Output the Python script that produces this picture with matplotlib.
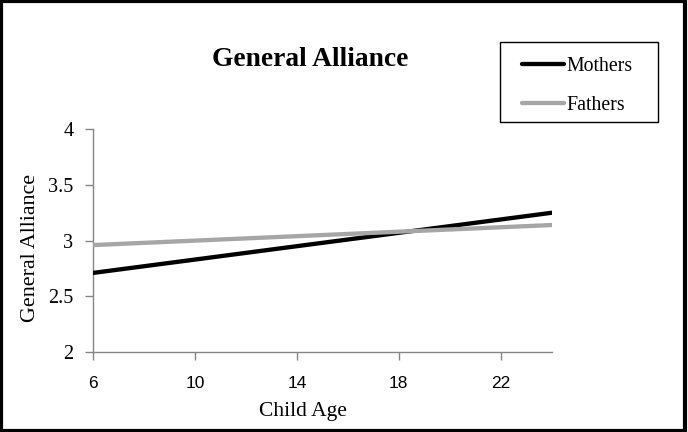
import matplotlib
matplotlib.use("Agg")
import matplotlib.pyplot as plt
from matplotlib.patches import Rectangle

ages = [6, 24]
mothers = [2.71, 3.25]
fathers = [2.96, 3.14]
series_names = ["Mothers", "Fathers"]
x_ticks = [6, 10, 14, 18, 22]
y_ticks = [2, 2.5, 3, 3.5, 4]
y_tick_labels = ["2", "2.5", "3", "3.5", "4"]

serif = "Liberation Serif"
sans = "Liberation Sans"

fig = plt.figure(figsize=(6.88, 4.32), dpi=100)
ax = fig.add_axes([0.135, 0.185, 0.667, 0.516])

ax.plot(ages, mothers, color="black", lw=3.1, solid_capstyle="round", label=series_names[0])
ax.plot(ages, fathers, color="#a6a6a6", lw=3.1, solid_capstyle="round", label=series_names[1])

ax.set_xlim(6, 24)
ax.set_ylim(2, 4)
ax.set_xticks(x_ticks)
ax.set_yticks(y_ticks)
ax.set_yticklabels(y_tick_labels, fontfamily=serif, fontsize=14.6)
for lbl in ax.get_xticklabels():
    lbl.set_fontfamily(sans)
    lbl.set_fontsize(12.5)
ax.tick_params(axis="both", direction="out", length=5.5, width=1, color="#868686")
ax.tick_params(axis="x", pad=12)
ax.tick_params(axis="y", pad=8.5)
for s in ["top", "right"]:
    ax.spines[s].set_visible(False)
for s in ["left", "bottom"]:
    ax.spines[s].set_color("#868686")
    ax.spines[s].set_linewidth(1)
ax.spines["left"].set_zorder(0)

ax.set_xlabel("Child Age", fontfamily=serif, fontsize=15.5)
ax.xaxis.set_label_coords(0.457, -0.226)
ax.set_ylabel("General Alliance", fontfamily=serif, fontsize=15.8)
ax.yaxis.set_label_coords(-0.115, 0.469)

fig.text(0.451, 1 - 60 / 432, "General Alliance", fontfamily=serif, fontsize=19.8,
         fontweight="bold", ha="center", va="center")

leg = fig.legend(loc="center left", bbox_to_anchor=(522 / 688, 1 - 86 / 432),
                 prop={"family": serif, "size": 14.3}, frameon=False,
                 handlelength=2.1, handletextpad=0.15,
                 labelspacing=1.02, borderpad=0, borderaxespad=0)
for h in leg.legend_handles:
    h.set_linewidth(3.1)

fig.add_artist(Rectangle((500 / 688, 1 - 122 / 432), 158 / 688, 80 / 432,
                         transform=fig.transFigure, fill=False,
                         edgecolor="black", linewidth=1))

fig.add_artist(Rectangle((0.002, 0.002), 0.993, 0.996, transform=fig.transFigure,
                         fill=False, edgecolor="black", linewidth=3))

fig.savefig("out.png", dpi=100)
